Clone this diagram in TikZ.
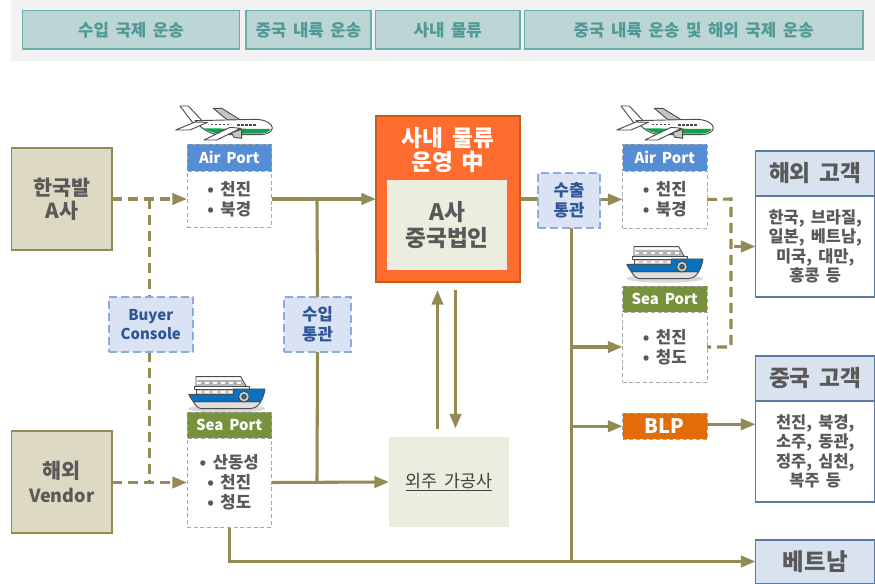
\documentclass[tikz,border=0pt]{standalone}
\usepackage{fontspec}
\setmainfont{Noto Sans CJK KR}[WordSpace=1.7]
\usetikzlibrary{arrows.meta,backgrounds,calc}
\definecolor{flow}{HTML}{948A54}
\definecolor{tabfill}{HTML}{BCD5D5}
\definecolor{tabline}{HTML}{6BAEAE}
\definecolor{tabtext}{HTML}{4F9A96}
\definecolor{txt}{HTML}{595959}
\definecolor{sand}{HTML}{DDD9C3}
\definecolor{pale}{HTML}{EBEEDF}
\definecolor{oran}{HTML}{FF6C2F}
\definecolor{oranl}{HTML}{C55A11}
\definecolor{bluef}{HTML}{DAE3F3}
\definecolor{bluel}{HTML}{8FAADC}
\definecolor{bluet}{HTML}{2F5597}
\definecolor{custf}{HTML}{D9E3F0}
\definecolor{custl}{HTML}{5B7BA5}
\definecolor{airh}{HTML}{558ED5}
\definecolor{seah}{HTML}{76923C}
\definecolor{blpf}{HTML}{E36C09}
\definecolor{shipb}{HTML}{0A70C0}
\definecolor{planeg}{HTML}{10A050}
\tikzset{
 base/.style={inner sep=0pt,outer sep=0pt,align=center},
 tabbox/.style={base,fill=tabfill,draw=tabline,line width=1.1pt,text=tabtext,font=\fontsize{12.6}{15}\selectfont\bfseries},
 srcbox/.style={base,fill=sand,draw=flow,line width=.9pt,text=txt,font=\fontsize{15.5}{17.5}\selectfont\bfseries},
 hdr/.style={base,draw=gray!70,densely dashed,line width=.6pt,text=white,font=\fontsize{11.2}{15}\selectfont\bfseries},
 portbody/.style={base,fill=white,draw=gray!70,densely dashed,line width=.7pt,text=txt,font=\fontsize{12.5}{15}\selectfont\bfseries},
 gate/.style={base,fill=bluef,draw=bluel,dash pattern=on 6pt off 3pt,line width=1.5pt,text=bluet,font=\fontsize{12.5}{14.6}\selectfont\bfseries},
 custh/.style={base,fill=custf,draw=custl,line width=1pt,text=txt,font=\fontsize{17}{19}\selectfont\bfseries},
 custb/.style={base,fill=white,draw=custl,line width=1pt,text=txt,font=\fontsize{12.3}{14.5}\selectfont\bfseries},
 flowline/.style={draw=flow,line width=2.3pt},
 flowarrow/.style={flowline,-{Triangle[length=11pt,width=8.5pt]}},
 flowdash/.style={draw=flow,line width=2.3pt,dash pattern=on 7.5pt off 4.5pt},
 flowdasharrow/.style={flowdash,-{Triangle[length=11pt,width=8.5pt]}},
 art/.style={draw=black!70,line width=.7pt,line join=round},
}
\newcommand{\bx}[6]{\node[#6,minimum width={(#4-#2)*0.75pt},minimum height={(#5-#3)*0.75pt}] (#1) at ({(#2+#4)/2},{(#3+#5)/2})}
\newcommand{\planeart}[1]{%
\begin{scope}[x=.25pt,y=-.25pt,xshift=#1*0.75pt]
 \filldraw[art,fill=white] (540,318)--(565,318)--(606,362)--(578,368)--cycle;
 \filldraw[art,fill=gray!45] (640,325)--(665,325)--(722,360)--(682,360)--cycle;
 \filldraw[art,fill=white] (585,362)--(770,358) .. controls (800,360) and (817,372) .. (817,384) .. controls (817,396) and (800,404) .. (780,404)--(660,404) .. controls (630,402) and (610,392) .. (585,362)--cycle;
 \fill[planeg] (610,385)--(812,387) .. controls (808,396) and (795,401) .. (780,401)--(660,401) .. controls (640,399) and (625,394) .. (610,385)--cycle;
 \filldraw[art,fill=white] (527,390)--(585,366)--(622,367)--(570,390)--cycle;
 \filldraw[art,fill=white] (612,420)--(690,382)--(722,385)--(650,420)--cycle;
 \filldraw[art,fill=gray!45] (695,398)--(725,388)--(725,415)--(702,412)--cycle;
 \draw[black!70,line width=.9pt,dash pattern=on 2pt off 1pt] (632,373)--(692,373) (712,375)--(768,375);
\end{scope}}
\newcommand{\shipart}[2]{%
\begin{scope}[x=.25pt,y=-.25pt,xshift=#1*0.75pt,yshift=-#2*0.75pt]
 \fill[gray!30] (680,356) ellipse [x radius=115,y radius=12];
 \filldraw[art,fill=gray!25] (580,335)--(782,335)--(775,345) .. controls (770,352) and (760,356) .. (750,356)--(605,356) .. controls (595,356) and (585,345) .. (580,335)--cycle;
 \filldraw[art,fill=white] (588,260)--(722,260)--(738,288)--(588,288)--cycle;
 \fill[gray!60] (592,270)--(726,270)--(732,285)--(592,285)--cycle;
 \draw[white,line width=1.5pt,dash pattern=on 3pt off 3pt] (592,278)--(726,278);
 \filldraw[art,fill=white] (583,288)--(747,288)--(747,297)--(583,297)--cycle;
 \filldraw[art,fill=shipb] (566,313)--(700,313)--(700,297)--(795,297) .. controls (792,315) and (788,325) .. (782,335)--(580,335) .. controls (574,328) and (570,320) .. (566,313)--cycle;
 \filldraw[art,fill=gray!45] (588,297)--(700,297)--(700,313)--(588,313)--cycle;
 \draw[white,line width=1.5pt,dash pattern=on 3pt off 3pt] (592,305)--(696,305);
 \filldraw[art,fill=gray!35] (732,320) circle [radius=16];
 \filldraw[art,fill=shipb] (732,320) circle [radius=7];
\end{scope}}
\begin{document}
\begin{tikzpicture}[x=.75pt,y=-.75pt]
\useasboundingbox (0,0) rectangle (875,584);
% tabs
\bx{t1}{22.5}{10.5}{239.5}{49}{tabbox}{수입 국제 운송};
\bx{t2}{246}{10.5}{371}{49}{tabbox}{중국 내륙 운송};
\bx{t3}{375.5}{10.5}{520}{49}{tabbox}{사내 물류};
\bx{t4}{524.5}{10.5}{863}{49}{tabbox}{중국 내륙 운송 및 해외 국제 운송};
% sources
\bx{korea}{11.5}{148}{112}{250}{srcbox}{한국발\\A사};
\bx{vendor}{11.5}{431}{112}{533}{srcbox}{해외\\{\fontsize{13.5}{17.5}\selectfont Vendor}};
% ports left
\planeart{0}
\bx{air1h}{187}{144.5}{271.5}{171}{hdr,fill=airh}{Air Port};
\bx{air1}{187}{171}{271.5}{227}{portbody}{• 천진\\• 북경};
\shipart{0}{290}
\bx{sea1h}{187}{412}{271.5}{438}{hdr,fill=seah}{Sea Port};
\bx{sea1}{187}{438}{271.5}{527}{portbody}{• 산동성\\• 천진\\• 청도};
% gates
\bx{buyer}{108.5}{297}{193}{352}{gate,font=\fontsize{11.2}{14.6}\selectfont\bfseries}{Buyer\\Console};
\bx{imp}{284}{297}{351}{352}{gate}{수입\\통관};
\bx{exp}{538}{173}{600}{228}{gate}{수출\\통관};
% centre
\bx{hq}{376}{116}{520}{282}{base,fill=oran,draw=oranl,line width=1.1pt}{};
\node[base,text=white,font=\fontsize{17}{18}\selectfont\bfseries] (hqt) at (448,150) {사내 물류\\운영 中};
\bx{hqi}{387}{180}{507}{270}{base,fill=pale,text=txt,font=\fontsize{17}{19.5}\selectfont\bfseries}{A사\\중국법인};
\bx{out}{389}{437}{509}{527}{base,fill=pale,text=black!75,font=\fontsize{13}{15}\selectfont}{\underline{외주 가공사}};
% ports right
\planeart{441}
\bx{air2h}{622.5}{144.5}{707}{171}{hdr,fill=airh}{Air Port};
\bx{air2}{622.5}{171}{707}{228}{portbody}{• 천진\\• 북경};
\shipart{438}{160}
\bx{sea2h}{622.5}{286}{707}{312}{hdr,fill=seah}{Sea Port};
\bx{sea2}{622.5}{312}{707}{382}{portbody}{• 천진\\• 청도};
\bx{blp}{622.5}{413.5}{707}{439}{hdr,fill=blpf,font=\fontsize{15}{17}\selectfont\bfseries}{BLP};
% customers
\bx{c1h}{755.5}{151}{875}{196}{custh}{해외 고객};
\bx{c1}{755.5}{196}{875}{297}{custb}{한국, 브라질,\\일본, 베트남,\\미국, 대만,\\홍콩 등};
\bx{c2h}{755.5}{356}{875}{401}{custh}{중국 고객};
\bx{c2}{755.5}{401}{875}{502}{custb}{천진, 북경,\\소주, 동관,\\정주, 심천,\\복주 등};
\bx{vn}{755.5}{540}{875}{584}{custh,font=\fontsize{17.6}{19}\selectfont\bfseries}{베트남};
% free ends
\coordinate (jd) at (149.5,199);
\coordinate (jv) at (149.5,482.5);
\coordinate (ji) at (317,199);
\coordinate (js) at (317,482.5);
\coordinate (upa) at (437.5,429);
\coordinate (upb) at (437.5,290);
\coordinate (dna) at (455.5,290);
\coordinate (dnb) at (455.5,428.5);
\coordinate (trunk) at (571.5,561.5);
\coordinate (ttop) at (571.5,228);
\coordinate (rr1) at (731,199);
\coordinate (rr2) at (731,347);
\coordinate (rm) at (734,246.5);
\coordinate (bo) at (720,424.3);
\begin{scope}[on background layer]
 \fill[black!5] (11,0) rectangle (875,61);
 \draw[flowdasharrow] (korea.east |- jd) -- (air1.west);
 \draw[flowdasharrow] (vendor.east |- jv) -- (sea1.west);
 \draw[flowdash] (jd) -- (jd |- buyer.north);
 \draw[flowdash] (jd |- buyer.south) -- (jv);
 \draw[flowarrow] (air1.east) -- (hq.west |- air1.east);
 \draw[flowarrow] (sea1.east) -- (out.west);
 \draw[flowline] (ji) -- (imp.north);
 \draw[flowline] (imp.south) -- (js);
 \draw[flowarrow] (upa) -- (upb);
 \draw[flowarrow] (dna) -- (dnb);
 \draw[flowline] (hq.east |- air1.east) -- (exp.west |- air1.east);
 \draw[flowarrow] (exp.east |- air2.west) -- (air2.west);
 \draw[flowline] (ttop) -- (trunk);
 \draw[flowarrow] (trunk |- sea2.west) -- (sea2.west);
 \draw[flowarrow] (trunk |- blp.west) -- (blp.west);
 \draw[flowline] (sea1.south) -- (sea1.south |- trunk) -- (trunk);
 \draw[flowarrow] (trunk) -- (vn.west |- trunk);
 \draw[flowarrow] (blp.east |- bo) -- (c2.west |- bo);
 \draw[flowdash] (air2.east) -- (rr1) -- (rr2) -- (sea2.east);
 \draw[flowarrow] (rm) -- (c1.west);
\end{scope}
\end{tikzpicture}
\end{document}
